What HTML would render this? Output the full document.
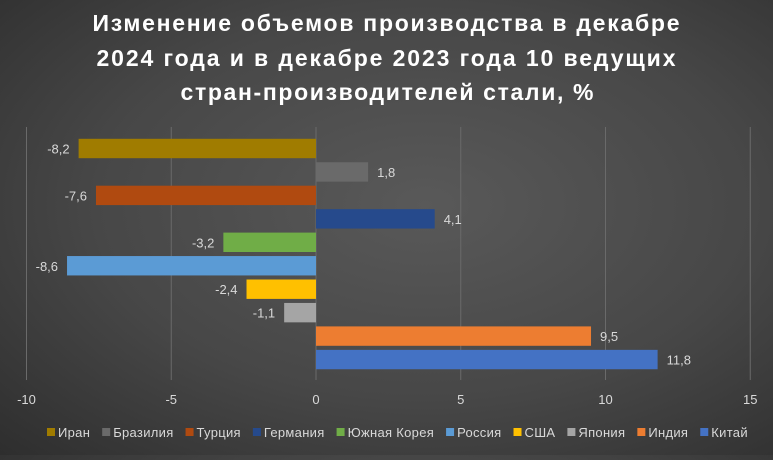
<!DOCTYPE html>
<html><head><meta charset="utf-8"><style>
body{margin:0;width:773px;height:455px;overflow:hidden;background:radial-gradient(ellipse at 55% 45%,#595959 0%,#474747 55%,#2e2e2e 100%);font-family:"Liberation Sans","DejaVu Sans",sans-serif;}
</style></head><body>
<svg width="773" height="455">
<g fill="#fff" font-weight="bold" font-size="23" text-anchor="middle">
<text x="386" y="31" textLength="587" lengthAdjust="spacing">Изменение объемов производства в декабре</text>
<text x="386" y="66" textLength="579" lengthAdjust="spacing">2024 года и в декабре 2023 года 10 ведущих</text>
<text x="387" y="100" textLength="413" lengthAdjust="spacing">стран-производителей стали, %</text>
</g>
<g id="grid"></g><g id="bars"></g><g id="ticks"></g><g id="legend"></g>
</svg>
<script>
const categories=["Иран","Бразилия","Турция","Германия","Южная Корея","Россия","США","Япония","Индия","Китай"];
const values=[-8.2,1.8,-7.6,4.1,-3.2,-8.6,-2.4,-1.1,9.5,11.8];
const colors=["#a07c00","#6a6a6a","#b04a10","#264a8c","#70ad47","#5b9bd5","#ffc000","#a5a5a5","#ed7d31","#4472c4"];
const tickValues=[-10,-5,0,5,10,15];
const NS="http://www.w3.org/2000/svg";
const x=v=>316+v*28.95;
const yc=i=>148.5+i*23.45;
function mk(t,a,p){const e=document.createElementNS(NS,t);for(const k in a)e.setAttribute(k,a[k]);p.appendChild(e);return e;}
const G=document.getElementById('grid'),B=document.getElementById('bars'),T=document.getElementById('ticks'),L=document.getElementById('legend');
tickValues.forEach(v=>{
 const l=mk('line',{x1:x(v),x2:x(v),y1:127,y2:380,stroke:'#6a6a6a','stroke-width':1},G);
 
 
 const t=mk('text',{x:x(v),y:404,fill:'#d9d9d9','font-size':13,'text-anchor':'middle'},T);
 t.textContent=v;
 
 
});
values.forEach((v,i)=>{
 const x0=Math.min(x(0),x(v)),w=Math.abs(x(v)-x(0));
 const r=mk('rect',{x:x0,y:yc(i)-9.7,width:w,height:19.4,fill:colors[i]},B);
 
 
 const t=mk('text',{x:v<0?x(v)-9:x(v)+9,y:yc(i)+5,fill:'#d9d9d9','font-size':13,'text-anchor':v<0?'end':'start'},B);
 t.textContent=String(v).replace('.',',');
 
 
});
let lx=47;
categories.forEach((c,i)=>{
 const g=mk('g',{},L);
 
 
 mk('rect',{x:lx,y:428,width:8,height:8,fill:colors[i]},g);
 const t=mk('text',{x:lx+11,y:437,fill:'#d9d9d9','font-size':13,'letter-spacing':'0.3'},g);
 t.textContent=c;
 lx+=11+t.getComputedTextLength()+12;
});
</script>
</body></html>
